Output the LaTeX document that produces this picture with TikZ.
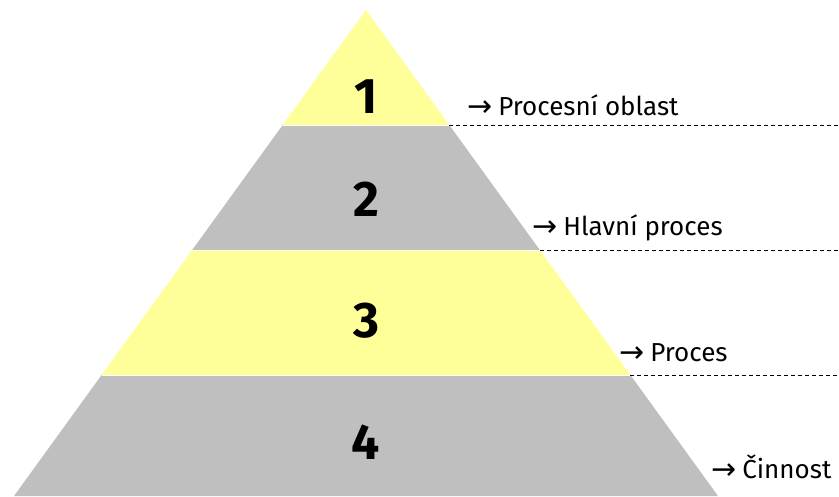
\documentclass[tikz,border=0pt]{standalone}
\usepackage{fontspec}
\setmainfont{Fira Sans}
\newfontfamily\arrowfont{DejaVu Sans}
\definecolor{pyel}{HTML}{FFFF99}
\definecolor{pgray}{HTML}{BFBFBF}
\newcommand{\rarr}{\raisebox{-1.5pt}{\arrowfont\fontsize{30}{30}\selectfont →}\hspace{6pt}}
\begin{document}
\begin{tikzpicture}[x=1pt,y=-1pt,
  num/.style={font=\fontsize{50}{50}\selectfont\bfseries,inner sep=0pt},
  lbl/.style={font=\fontsize{26}{26}\selectfont,anchor=base west,inner sep=0pt},
  guide/.style={line width=1pt,dash pattern=on 4pt off 3pt}]
\useasboundingbox (0,0) rectangle (839,496);
\fill[white] (0,0) rectangle (839,496);
% edges
\coordinate (apex) at (366,10);
\coordinate (l1) at (282.7,125); \coordinate (r1) at (449.3,125);
\coordinate (l2) at (192.2,250); \coordinate (r2) at (539.8,250);
\coordinate (l3) at (101.6,375); \coordinate (r3) at (630.4,375);
\coordinate (l4) at (14,496);    \coordinate (r4) at (718,496);
\fill[pyel] (apex) -- (r1) -- (l1) -- cycle;
\fill[pgray] (l1) -- (r1) -- (r2) -- (l2) -- cycle;
\fill[pyel] (l2) -- (r2) -- (r3) -- (l3) -- cycle;
\fill[pgray] (l3) -- (r3) -- (r4) -- (l4) -- cycle;
\draw[white,line width=1pt] (l1) -- (r1) (l2) -- (r2) (l3) -- (r3);
\node[num] (n1) at (366,97) {1};
\node[num] (n2) at (366,199) {2};
\node[num] (n3) at (366,321) {3};
\node[num] (n4) at (366,442) {4};
\coordinate (e1) at (839,125);
\coordinate (e2) at (839,250);
\coordinate (e3) at (839,375);
\draw[guide] (r1) -- (e1);
\draw[guide] (r2) -- (e2);
\draw[guide] (r3) -- (e3);
\node[lbl] (t1) at (467,115) {\rarr Procesní oblast};
\node[lbl] (t2) at (532,235) {\rarr Hlavní proces};
\node[lbl] (t3) at (619,361) {\rarr Proces};
\node[lbl] (t4) at (711,478) {\rarr Činnost};
\end{tikzpicture}
\end{document}
